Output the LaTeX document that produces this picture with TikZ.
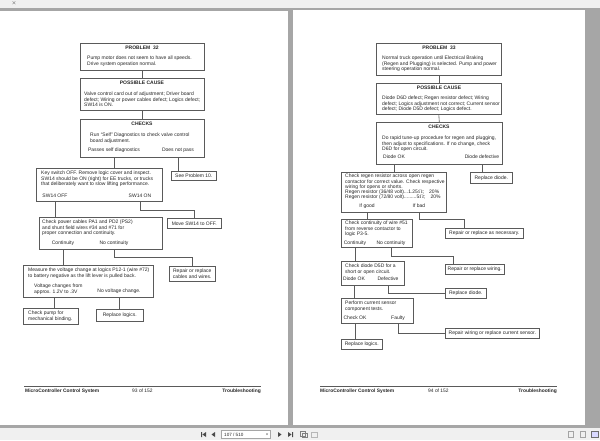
\documentclass[tikz,border=0pt]{standalone}
\usepackage{fontspec}
\setmainfont{Liberation Sans}
\definecolor{bargray}{HTML}{F0F0F0}
\definecolor{edgegray}{HTML}{A6A6A6}
\definecolor{boxline}{HTML}{5A5A5A}
\definecolor{icongray}{HTML}{4A4A4A}

\begin{document}
\begin{tikzpicture}
  [x=1pt,y=-1pt,
   every node/.style={inner sep=0pt,text=black!85,font=\fontsize{5}{5.2}\selectfont},
   box/.style={draw=boxline,line width=0.6pt,anchor=north west},
   title/.style={font=\fontsize{5}{5.2}\selectfont\bfseries},
   txt/.style={anchor=north west,align=left},
   ctxt/.style={align=center},
   foot/.style={font=\fontsize{4.9}{5.2}\selectfont\bfseries},
   link/.style={draw=boxline,line width=0.6pt}]
  \useasboundingbox (0,0) rectangle (600,440);

  % viewer frame
  \fill[bargray] (0,0) rectangle (600,440);
  \fill[edgegray] (0,8) rectangle (600,428);
  \fill[white] (0,11) rectangle (288,425);
  \fill[white] (293,10) rectangle (585,425);
  \node (tabx) at (14,3) {$\times$};

  % ---------- page 93 ----------
  \node[box,minimum width=124pt,minimum height=27pt] (p32) at (80,43) {};
  \node[title] (p32t) at (142,48) {PROBLEM\ \ 32};
  \node[txt] (p32x) at (87,56) {Pump motor does not seem to have all speeds.\\Drive system operation normal.};

  \node[box,minimum width=124pt,minimum height=32pt] (cause32) at (80,78) {};
  \node[title] (cause32t) at (142,83) {POSSIBLE CAUSE};
  \node[txt] (cause32x) at (84,92) {Valve control card out of adjustment; Driver board\\defect; Wiring or power cables defect; Logics defect;\\SW14 is ON.};

  \node[box,minimum width=124pt,minimum height=38pt] (chk32) at (80,119) {};
  \node[title] (chk32t) at (142,124) {CHECKS};
  \node[txt] (chk32x) at (90,133) {Run ``Self'' Diagnostics to check valve control\\board adjustment.};
  \node (pass) at (114,150) {Passes self diagnostics};
  \node (nopass) at (178,150) {Does not pass};

  \node[box,minimum width=126pt,minimum height=33pt] (key) at (36,168) {};
  \node[txt] (keyx) at (41,171) {Key switch OFF. Remove logic cover and inspect.\\SW14 should be ON (right) for EE trucks, or trucks\\that deliberately want to slow lifting performance.};
  \node (swoff) at (55,196) {SW14 OFF};
  \node (swon) at (140,196) {SW14 ON};

  \node[box,minimum width=45pt,minimum height=9pt] (p10) at (171,171) {};
  \node (p10x) at (p10) {See Problem 10.};

  \node[box,minimum width=123pt,minimum height=32pt] (power) at (39,217) {};
  \node[txt] (powerx) at (42,220) {Check power cables PA1 and PD2 (PS2)\\and shunt field wires \#34 and \#71 for\\proper connection and continuity.};
  \node (cont) at (63,243) {Continuity};
  \node (nocont) at (114,243) {No continuity};

  \node[box,minimum width=54pt,minimum height=10pt] (move) at (167,218) {};
  \node (movex) at (move) {Move SW14 to OFF.};

  \node[box,minimum width=46pt,minimum height=15pt] (repair32) at (169,266) {};
  \node[ctxt] (repair32x) at (repair32) {Repair or replace\\cables and wires.};

  \node[box,minimum width=130pt,minimum height=32pt] (volt) at (23,265) {};
  \node[txt] (voltx) at (28,268) {Measure the voltage change at logics P12-1 (wire \#72)\\to battery negative as the lift lever is pulled back.};
  \node[txt] (vchg) at (34,284) {Voltage changes from\\approx. 1.2V to .3V};
  \node (novolt) at (119,291) {No voltage change.};

  \node[box,minimum width=55pt,minimum height=16pt] (pump) at (23,308) {};
  \node[txt] (pumpx) at (28,311) {Check pump for\\mechanical binding.};

  \node[box,minimum width=47pt,minimum height=12pt] (logic32) at (96,309) {};
  \node (logic32x) at (logic32) {Replace logics.};

  \path[link]
    (p32.south) edge (cause32.north)
    (cause32.south) edge (chk32.north)
    (pass |- chk32.south) edge (pass |- key.north)
    (nopass |- chk32.south) edge (nopass |- p10.north)
    (swoff |- key.south) edge (swoff |- power.north)
    (cont |- power.south) edge (cont |- volt.north)
    ([xshift=-4pt]vchg.south |- volt.south) edge ([xshift=-4pt]vchg.south |- pump.north)
    (novolt |- volt.south) edge (novolt |- logic32.north);
  \draw[link] (swon |- key.south) -- ++(0,9) -| (move.north);
  \draw[link] (nocont |- power.south) -- ++(0,8) -| (repair32.north);

  \draw[boxline,line width=0.5pt] (24,386) -- (261,386);
  \node[foot,anchor=west] (sys93) at (25,391) {MicroController Control System};
  \node[anchor=west,font=\fontsize{4.9}{5.2}\selectfont] (pg93) at (132,391) {93 of 152};
  \node[foot,anchor=east] (ts93) at (261,391) {Troubleshooting};

  % ---------- page 94 ----------
  \node[box,minimum width=125pt,minimum height=32pt] (p33) at (376,43) {};
  \node[title] (p33t) at (439,48) {PROBLEM\ \ 33};
  \node[txt] (p33x) at (382,56) {Normal truck operation until Electrical Braking\\(Regen and Plugging) is selected. Pump and power\\steering operation normal.};

  \node[box,minimum width=125pt,minimum height=31pt] (cause33) at (376,83) {};
  \node[title] (cause33t) at (439,88) {POSSIBLE CAUSE};
  \node[txt] (cause33x) at (382,96) {Diode D6D defect; Regen resistor defect; Wiring\\defect; Logics adjustment not correct; Current sensor\\defect; Diode D5D defect; Logics defect.};

  \node[box,minimum width=126pt,minimum height=42pt] (chk33) at (376,122) {};
  \node[title] (chk33t) at (439,127) {CHECKS};
  \node[txt] (chk33x) at (382,136) {Do rapid tune-up procedure for regen and plugging,\\then adjust to specifications. If no change, check\\D6D for open circuit.};
  \node (dok) at (394,157) {Diode OK};
  \node (ddef) at (482,157) {Diode defective};

  \node[box,minimum width=42pt,minimum height=11pt] (diode33) at (470,172) {};
  \node (diode33x) at (diode33) {Replace diode.};

  \node[box,minimum width=105pt,minimum height=40pt] (regen) at (341,172) {};
  \node[txt] (regenx) at (345,174) {Check regen resistor across open regen\\contactor for correct value. Check respective\\wiring for opens or shorts.\\Regen resistor (36/48 volt)...1.25$\Omega$;\hspace{5pt}20\%\\Regen resistor (72/80 volt).........5$\Omega$;\hspace{5pt}20\%};
  \node (ifgood) at (367,206) {If good};
  \node (ifbad) at (419,206) {If bad};

  \node[box,minimum width=78pt,minimum height=10pt] (asnec) at (445,228) {};
  \node (asnecx) at (asnec) {Repair or replace as necessary.};

  \node[box,minimum width=71pt,minimum height=28pt] (wire51) at (341,219) {};
  \node[txt] (wire51x) at (345,221) {Check continuity of wire \#51\\from reverse contactor to\\logic P3-5.};
  \node (cont51) at (355,243) {Continuity};
  \node (nocont51) at (391,243) {No continuity};

  \node[box,minimum width=59pt,minimum height=10pt] (repwire) at (445,264) {};
  \node (repwirex) at (repwire) {Repair or replace wiring.};

  \node[box,minimum width=63pt,minimum height=24pt] (d5d) at (341,261) {};
  \node[txt] (d5dx) at (345,264) {Check diode D5D for a\\short or open circuit.};
  \node (dok2) at (354,279) {Diode OK};
  \node (defect) at (388,279) {Defective};

  \node[box,minimum width=41pt,minimum height=10pt] (diode33b) at (445,288) {};
  \node (diode33bx) at (diode33b) {Replace diode.};

  \node[box,minimum width=72pt,minimum height=25pt] (sensor) at (341,298) {};
  \node[txt] (sensorx) at (345,301) {Perform current sensor\\component tests.};
  \node (chkok) at (355,318) {Check OK};
  \node (faulty) at (398,318) {Faulty};

  \node[box,minimum width=94pt,minimum height=10pt] (sensrep) at (445,328) {};
  \node (sensrepx) at (sensrep) {Repair wiring or replace current sensor.};

  \node[box,minimum width=41pt,minimum height=10pt] (logic33) at (341,339) {};
  \node (logic33x) at (logic33) {Replace logics.};

  \path[link]
    (p33.south) edge (cause33.north)
    (cause33.south) edge (chk33.north)
    (dok |- chk33.south) edge (dok |- regen.north)
    (ddef |- chk33.south) edge (ddef |- diode33.north)
    (ifgood |- regen.south) edge (ifgood |- wire51.north)
    (cont51 |- wire51.south) edge (cont51 |- d5d.north)
    (dok2 |- d5d.south) edge (dok2 |- sensor.north)
    (chkok |- sensor.south) edge (chkok |- logic33.north);
  \draw[link] (ifbad |- regen.south) -- ++(0,7) -| ([xshift=19pt]asnec.north west);
  \draw[link] (nocont51 |- wire51.south) -- ++(0,9) -| ([xshift=8pt]repwire.north west);
  \draw[link] (defect |- d5d.south) |- (diode33b.west);
  \draw[link] (faulty |- sensor.south) |- (sensrep.west);

  \draw[boxline,line width=0.5pt] (320,386) -- (557,386);
  \node[foot,anchor=west] (sys94) at (320,391) {MicroController Control System};
  \node[anchor=west,font=\fontsize{4.9}{5.2}\selectfont] (pg94) at (428,391) {94 of 152};
  \node[foot,anchor=east] (ts94) at (557,391) {Troubleshooting};

  % ---------- viewer toolbar ----------
  \fill[icongray] (201,432) rectangle (202,437) (206,432) -- (202.5,434.5) -- (206,437) -- cycle;
  \fill[icongray] (215,432) -- (211.5,434.5) -- (215,437) -- cycle;
  \node[draw=edgegray,fill=white,anchor=west,minimum width=49pt,minimum height=8pt] (pagefield) at (221,434.5) {};
  \node[anchor=west,font=\fontsize{4.6}{5}\selectfont] (pagenum) at (224,434.5) {107 / 510};
  \fill[icongray] (266,433.5) -- (268,433.5) -- (267,435) -- cycle;
  \fill[icongray] (278,432) -- (281.5,434.5) -- (278,437) -- cycle;
  \fill[icongray] (288,432) -- (291.5,434.5) -- (288,437) -- cycle (292,432) rectangle (293,437);
  \draw[icongray!70,line width=0.4pt] (300,431.5) rectangle (305,436) (302,433) rectangle (307,437.5);
  \draw[icongray!40,line width=0.4pt] (311,432) rectangle (317,437);
  \draw[icongray!50,line width=0.4pt] (568,431.5) rectangle (573,437.5);
  \draw[icongray!50,line width=0.4pt] (580,431.5) rectangle (585,437.5);
  \draw[icongray!80,fill=blue!15,line width=0.4pt] (591,431.5) rectangle (598,437.5);
\end{tikzpicture}
\end{document}
